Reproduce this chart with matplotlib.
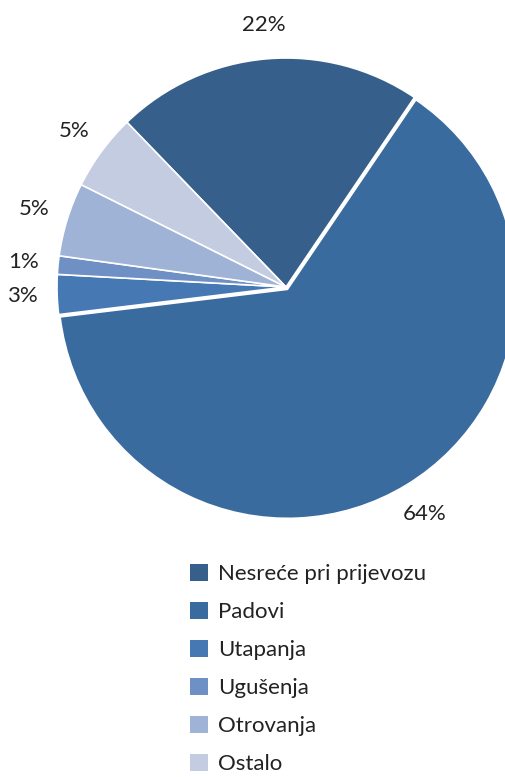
import matplotlib
matplotlib.use('Agg')
import matplotlib.pyplot as plt
from matplotlib.patches import Patch

# data
categories = ['Nesreće pri prijevozu', 'Padovi', 'Utapanja', 'Ugušenja', 'Otrovanja', 'Ostalo']
shares = [21.7, 63.6, 2.8, 1.3, 5.2, 5.4]
colors = ['#365f8b', '#3a6b9f', '#4678b4', '#6e90c5', '#9fb3d6', '#c3cce1']

W, H = 505, 777
cx, cy, R = 286, 287, 229  # pie centre / radius in pixels

plt.rcParams['font.family'] = ['Lato', 'DejaVu Sans']

fig = plt.figure(figsize=(W / 100, H / 100), dpi=100)
ax = fig.add_axes([0, 0, 1, 1])

wedges, texts, autotexts = ax.pie(
    shares, colors=colors, startangle=134, counterclock=False,
    explode=[0, 0.012, 0, 0, 0, 0],
    autopct='%.0f%%', pctdistance=1.15,
    wedgeprops=dict(edgecolor='white', linewidth=1.2),
    textprops=dict(fontsize=16, color='#222222'))

ax.set_aspect('auto')
ax.set_xlim(-cx / R, (W - cx) / R)
ax.set_ylim(-(H - cy) / R, cy / R)
ax.axis('off')

handles = [Patch(facecolor=c, edgecolor='none') for c in colors]
fig.legend(handles, categories, loc='upper left',
           bbox_to_anchor=(190 / W, 1 - 564 / H), frameon=False,
           fontsize=16, handlelength=0.8, handleheight=0.8,
           handletextpad=0.45, labelspacing=0.8,
           borderpad=0, borderaxespad=0, labelcolor='#222222')

fig.savefig('out.png', dpi=100)
